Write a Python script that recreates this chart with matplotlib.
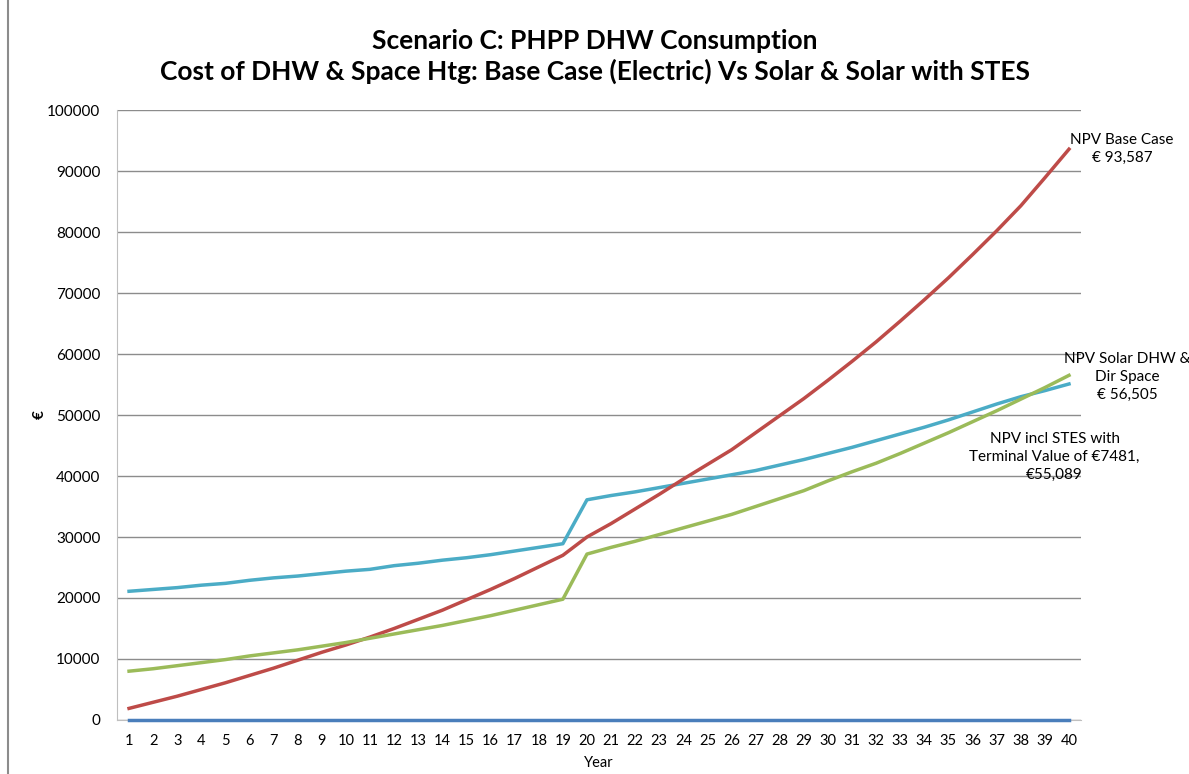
import matplotlib.pyplot as plt
from matplotlib.lines import Line2D

# Years on the category axis
years = list(range(1, 41))

# NPV Base Case (electric)
base_case = [1900, 2900, 3900, 5000, 6100, 7300, 8500, 9800, 11100, 12300,
             13600, 15000, 16500, 18000, 19700, 21400, 23200, 25100, 27000, 30000,
             32200, 34600, 37000, 39500, 41900, 44300, 47100, 49900, 52700, 55700,
             58800, 62000, 65400, 68900, 72500, 76300, 80200, 84300, 88900, 93587]

# NPV incl STES
solar_stes = [21100, 21400, 21700, 22100, 22400, 22900, 23300, 23600, 24000, 24400,
              24700, 25300, 25700, 26200, 26600, 27100, 27700, 28300, 28900, 36100,
              36800, 37400, 38100, 38800, 39500, 40200, 40900, 41800, 42700, 43700,
              44700, 45800, 46900, 48000, 49200, 50500, 51800, 53000, 54000, 55089]

# NPV Solar DHW & Dir Space
solar_dhw = [8000, 8400, 8900, 9400, 9900, 10500, 11000, 11500, 12100, 12700,
             13400, 14100, 14800, 15500, 16300, 17100, 18000, 18900, 19800, 27200,
             28300, 29300, 30400, 31500, 32600, 33700, 35000, 36300, 37600, 39200,
             40700, 42100, 43700, 45400, 47100, 48900, 50700, 52600, 54500, 56505]

# flat series sitting on zero
zero_series = [0] * 40

plt.rcParams['font.family'] = ['Lato', 'DejaVu Sans']

fig = plt.figure(figsize=(11.89, 7.74), dpi=100)
ax = fig.add_axes([0.0984, 0.0698, 0.8108, 0.7880])

ax.plot(years, zero_series, color='#4A7EBB', lw=2.5, zorder=5, clip_on=False)
ax.plot(years, solar_stes, color='#4BACC6', lw=2.5)
ax.plot(years, base_case, color='#BE4B48', lw=2.5)
ax.plot(years, solar_dhw, color='#9BBB59', lw=2.5)

ax.set_xlim(0.5, 40.5)
ax.set_ylim(0, 100000)
ax.set_yticks(range(0, 100001, 10000))
ax.set_xticks(years)
ax.set_xticklabels([str(y) for y in years], fontsize=10.5)
ax.tick_params(axis='y', labelsize=11, length=0, pad=12)
ax.tick_params(axis='x', length=0, pad=10)
ax.grid(axis='y', color='#8C8C8C', lw=1)
ax.set_axisbelow(True)
for s in ['top', 'right']:
    ax.spines[s].set_visible(False)
for s in ['left', 'bottom']:
    ax.spines[s].set_color('#BFBFBF')

ax.set_xlabel('Year', fontsize=10.5, labelpad=6)
ax.set_ylabel('€', fontsize=11, fontweight='bold', labelpad=0)

fig.suptitle('Scenario C: PHPP DHW Consumption\n'
             'Cost of DHW & Space Htg: Base Case (Electric) Vs Solar & Solar with STES',
             x=0.5, y=0.962, fontsize=19, fontweight='bold', linespacing=1.25)

# end labels
ax.text(42.2, 93600, 'NPV Base Case\n€ 93,587', ha='center', va='center',
        fontsize=11, clip_on=False, linespacing=1.3)
ax.text(42.4, 56200, 'NPV Solar DHW &\nDir Space\n€ 56,505', ha='center', va='center',
        fontsize=11, clip_on=False, linespacing=1.35)
ax.text(39.4, 43100, 'NPV incl STES with\nTerminal Value of €7481,\n€55,089',
        ha='center', va='center', fontsize=11, clip_on=False, linespacing=1.35)

# chart border on the left
fig.add_artist(Line2D([8 / 1189, 8 / 1189], [0, 1], transform=fig.transFigure,
                      color='#8C8C8C', lw=1.5))

fig.savefig('out.png', dpi=100)
